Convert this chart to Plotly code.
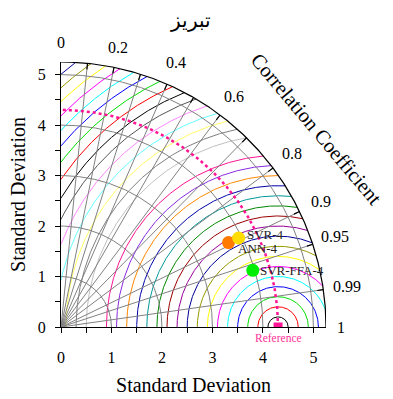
import numpy as np
import plotly.graph_objects as go

# ---------------- data ----------------
title_text = "تبریز"
ref_std = 4.3
ref_name = "Reference"
model_names = ["ANN-4", "SVR-4", "SVR-FFA-4"]
model_std = [3.716, 3.936, 3.962]
model_corr = [0.893, 0.894, 0.959]
model_colors = ["#ff7a00", "#ffdd00", "#00ee00"]

std_grid = [1, 2, 3, 4, 5]
corr_grid = [0.1, 0.2, 0.3, 0.4, 0.5, 0.6, 0.7, 0.8, 0.9, 0.95, 0.99]
corr_labels = [0, 0.2, 0.4, 0.6, 0.8, 0.9, 0.95, 0.99, 1]
rms_levels = [round(0.2 * k, 1) for k in range(1, 34)]
rms_palette = ["#000000", "#ff0000", "#00dd00", "#0000ff", "#00ffff", "#ff00ff",
               "#ffff00", "#999900", "#000099", "#990099", "#990000", "#008800",
               "#009999", "#0000aa", "#ff8800", "#8a2be2", "#ff1493", "#ffffff",
               "#c0c0c0", "#808080", "#ffff66", "#66ffff", "#ff88ff", "#555555"]
xticks = [0, 1, 2, 3, 4, 5]

rmax = 5.25
FONT = "Liberation Serif"

fig = go.Figure()

def add_line(x, y, color, width=1, dash=None):
    fig.add_trace(go.Scatter(x=x, y=y, mode="lines", hoverinfo="skip",
                             line=dict(color=color, width=width, dash=dash),
                             showlegend=False))

# RMS contours centred on the reference
for i, R in enumerate(rms_levels):
    c = ref_std
    a = (rmax**2 - c**2 - R**2) / (2 * c * R)
    t1 = np.arccos(np.clip(a, -1, 1))
    t2 = np.arccos(max(-c / R, -1))
    if t2 <= t1:
        continue
    th = np.linspace(t1, t2, 300)
    add_line(c + R * np.cos(th), R * np.sin(th), rms_palette[i % len(rms_palette)])

# std arcs
th = np.linspace(0, np.pi / 2, 300)
for s in std_grid:
    add_line(s * np.cos(th), s * np.sin(th), "#808080")

# correlation radial lines
for cval in corr_grid:
    a = np.arccos(cval)
    add_line([0, rmax * np.cos(a)], [0, rmax * np.sin(a)], "#808080")

# reference std dotted arc
add_line(ref_std * np.cos(th), ref_std * np.sin(th), "#ff1493", width=2.5, dash="dot")

# outer arc
add_line(rmax * np.cos(th), rmax * np.sin(th), "black", width=1.2)

# ticks on outer arc
tx, ty = [], []
for cval in corr_grid:
    a = np.arccos(cval)
    tx += [(rmax - 0.12) * np.cos(a), rmax * np.cos(a), None]
    ty += [(rmax - 0.12) * np.sin(a), rmax * np.sin(a), None]
add_line(tx, ty, "black", width=1.2)

# reference marker
fig.add_trace(go.Scatter(x=[ref_std], y=[0], mode="markers", cliponaxis=True,
                         marker=dict(symbol="square", size=9, color="#ff1493"),
                         showlegend=False, hoverinfo="skip"))

# models
for n, s, r, col in zip(model_names, model_std, model_corr, model_colors):
    a = np.arccos(r)
    fig.add_trace(go.Scatter(x=[s * np.cos(a)], y=[s * np.sin(a)], mode="markers",
                             marker=dict(size=13, color=col), name=n,
                             showlegend=False, cliponaxis=False))

# model labels
label_shift = {"ANN-4": (7, -6), "SVR-4": (6, 3), "SVR-FFA-4": (5, 0)}
for n, s, r in zip(model_names, model_std, model_corr):
    a = np.arccos(r)
    dx, dy = label_shift[n]
    fig.add_annotation(x=s * np.cos(a), y=s * np.sin(a), text=n, showarrow=False,
                       xanchor="left", yanchor="middle", xshift=dx, yshift=dy,
                       font=dict(family=FONT, size=13, color="#222222"))

fig.add_annotation(x=ref_std, y=0, text=ref_name, showarrow=False, yshift=-11,
                   xanchor="center", yanchor="middle",
                   font=dict(family=FONT, size=11.5, color="#ff3399"))

# correlation labels (paper coordinates so they can sit outside the axes)
for cval in corr_labels:
    a = np.arccos(cval)
    rr = 5.72
    if cval == 0:
        rr = 5.63
    elif cval == 0.2:
        rr = 5.66
    elif cval == 1:
        rr = 5.55
    fig.add_annotation(x=rr * np.cos(a) / rmax, y=rr * np.sin(a) / rmax,
                       xref="paper", yref="paper", text=str(cval),
                       showarrow=False, xanchor="center", yanchor="middle",
                       font=dict(family=FONT, size=16, color="black"))

fig.add_annotation(x=5.06 / rmax, y=3.92 / rmax, xref="paper", yref="paper",
                   text="Correlation Coefficient", textangle=50,
                   showarrow=False, xanchor="center", yanchor="middle",
                   font=dict(family=FONT, size=20.5, color="black"))

fig.add_annotation(x=0.49, y=1.0, xref="paper", yref="paper", yshift=42,
                   yanchor="middle", text=title_text, showarrow=False,
                   font=dict(family=FONT, size=20, color="black"))

axis_common = dict(range=[0, rmax], showgrid=False, zeroline=False, showline=True,
                   linecolor="black", linewidth=1.2, ticks="outside", ticklen=5,
                   tickcolor="black", tickvals=xticks, automargin=False,
                   minor=dict(tickvals=[0.5, 1.5, 2.5, 3.5, 4.5], ticks="outside",
                              ticklen=5, tickcolor="black"),
                   tickfont=dict(family=FONT, size=16, color="black"))

fig.update_layout(
    width=393, height=399,
    margin=dict(l=61, r=67, t=62, b=72, autoexpand=False),
    plot_bgcolor="white", paper_bgcolor="white",
    xaxis=dict(**axis_common, ticklabelstandoff=11,
               title=dict(text="Standard Deviation", standoff=12,
                          font=dict(family=FONT, size=20, color="black"))),
    yaxis=dict(**axis_common, ticklabelstandoff=6,
               title=dict(text="Standard Deviation", standoff=6,
                          font=dict(family=FONT, size=20, color="black"))),
)

fig.write_html("out.html")
